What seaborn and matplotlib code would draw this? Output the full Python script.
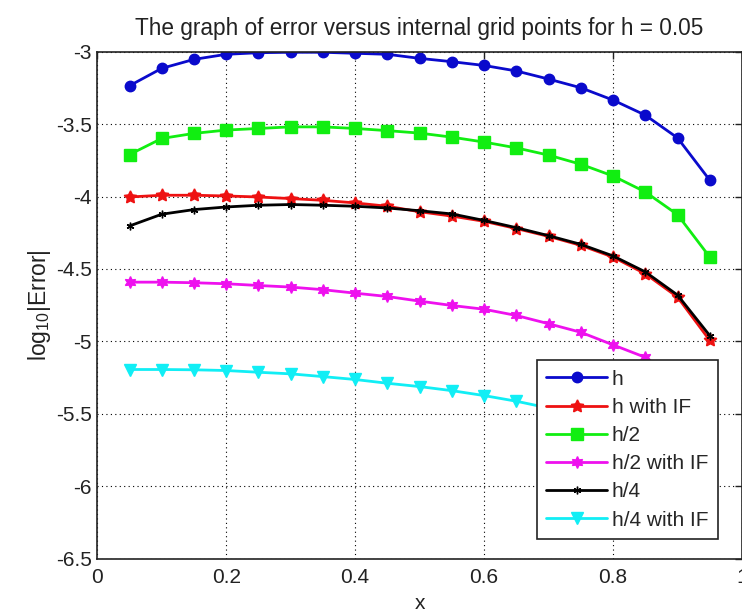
import numpy as np
import pandas as pd
import matplotlib
matplotlib.use("Agg")
import matplotlib.pyplot as plt
import seaborn as sns

# ---- data ----
x = [0.05, 0.10, 0.15, 0.20, 0.25, 0.30, 0.35, 0.40, 0.45, 0.50,
     0.55, 0.60, 0.65, 0.70, 0.75, 0.80, 0.85, 0.90, 0.95]

h = [-3.235, -3.115, -3.053, -3.018, -3.007, -3.004, -3.004, -3.011, -3.018, -3.046,
     -3.069, -3.095, -3.133, -3.189, -3.249, -3.334, -3.438, -3.595, -3.887]
h_if = [-4.003, -3.991, -3.991, -3.996, -4.003, -4.014, -4.026, -4.044, -4.067, -4.105,
        -4.135, -4.171, -4.221, -4.275, -4.337, -4.418, -4.533, -4.694, -4.993]
h2 = [-3.710, -3.599, -3.564, -3.541, -3.530, -3.519, -3.519, -3.530, -3.545, -3.562,
      -3.590, -3.624, -3.664, -3.714, -3.777, -3.858, -3.968, -4.125, -4.418]
h2_if = [-4.591, -4.591, -4.595, -4.602, -4.614, -4.625, -4.643, -4.667, -4.690, -4.722,
         -4.752, -4.778, -4.821, -4.878, -4.937, -5.024, -5.110, -5.270, -5.550]
h4 = [-4.203, -4.122, -4.090, -4.072, -4.060, -4.055, -4.060, -4.067, -4.079, -4.098,
      -4.120, -4.165, -4.215, -4.270, -4.330, -4.410, -4.520, -4.680, -4.960]
h4_if = [-5.194, -5.194, -5.196, -5.201, -5.213, -5.224, -5.243, -5.263, -5.289, -5.312,
         -5.340, -5.374, -5.413, -5.460, -5.520, -5.600, -5.700, -5.860, -6.150]

labels = ["h", "h with IF", "h/2", "h/2 with IF", "h/4", "h/4 with IF"]
series = [h, h_if, h2, h2_if, h4, h4_if]

xticks = [0, 0.2, 0.4, 0.6, 0.8, 1]
xticklabels = ["0", "0.2", "0.4", "0.6", "0.8", "1"]
yticks = [-6.5, -6, -5.5, -5, -4.5, -4, -3.5, -3]
yticklabels = ["-6.5", "-6", "-5.5", "-5", "-4.5", "-4", "-3.5", "-3"]

# ---- style ----
sns.set_theme(style="white")
plt.rcParams['font.family'] = ['Liberation Sans', 'DejaVu Sans']
plt.rcParams['mathtext.default'] = 'regular'

colors = ["#0a0acc", "#ee1111", "#11ee11", "#ee11ee", "#000000", "#11eef5"]
markers = ["o", (5, 1, 0), "s", (6, 1, 0), (6, 2, 0), "v"]
msizes = [7.5, 9.5, 8.5, 8.5, 5.5, 8.5]

fig = plt.figure(figsize=(7.42, 6.14), dpi=100)
ax = fig.add_axes([0.1311, 0.0901, 0.8689, 0.8257])

for ys, lab, c, m, ms in zip(series, labels, colors, markers, msizes):
    df = pd.DataFrame({"x": x, "y": ys})
    sns.lineplot(data=df, x="x", y="y", ax=ax, color=c, marker=m, markersize=ms,
                 markeredgecolor=c, markerfacecolor=c, markeredgewidth=1.0,
                 linewidth=2.0, label=lab)

ax.set_xlim(0, 1)
ax.set_ylim(-6.5, -3)
ax.set_xticks(xticks)
ax.set_xticklabels(xticklabels)
ax.set_yticks(yticks)
ax.set_yticklabels(yticklabels)
ax.grid(True, color="black", linestyle=(0, (1, 3)), linewidth=0.8)
ax.tick_params(direction="in", length=5, width=1, top=True, right=True,
               labelsize=15, colors="#222222")
ax.tick_params(axis="x", pad=7)
ax.tick_params(axis="y", pad=4)
for s in ax.spines.values():
    s.set_color("#222222")
    s.set_linewidth(1.2)

ax.set_title("The graph of error versus internal grid points for h = 0.05",
             fontsize=16.3, color="#222222", pad=12)
ax.set_xlabel("x", fontsize=15, color="#222222", labelpad=5)
ax.set_ylabel(r"log$_{10}$|Error|", fontsize=16.5, color="#222222", labelpad=2)

leg = ax.legend(loc="lower left", bbox_to_anchor=(0.682, 0.039), fontsize=15,
                frameon=True, fancybox=False, framealpha=1, edgecolor="#222222",
                handlelength=2.9, handletextpad=0.25, labelspacing=0.44,
                borderpad=0.45, borderaxespad=0)
leg.get_frame().set_linewidth(1.2)

fig.savefig("out.png", dpi=100, facecolor="white")
